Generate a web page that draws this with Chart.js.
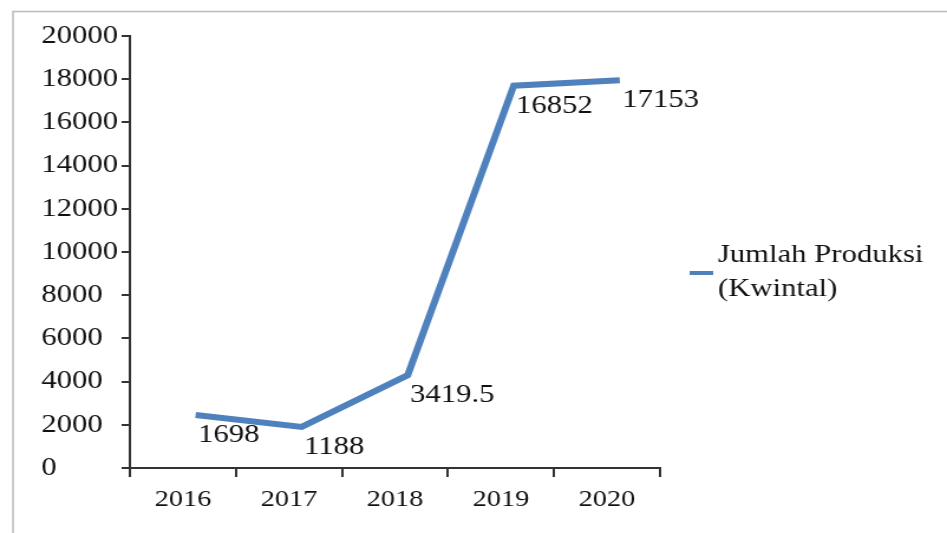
<!DOCTYPE html>
<html>
<head>
<meta charset="utf-8">
<script src="https://cdn.jsdelivr.net/npm/chart.js@4.4.0/dist/chart.umd.min.js"></script>
<style>
  html, body { margin: 0; padding: 0; background: #fff; overflow: hidden; }
  /* gambar asli agak melebar ke samping, jadi kanvas ditarik sedikit */
  #wadah { width: 802px; height: 533px; transform: scaleX(1.1808); transform-origin: 0 0; }
</style>
</head>
<body>
<div id="wadah"><canvas id="grafikProduksi"></canvas></div>
<script>
const tahun = ["2016", "2017", "2018", "2019", "2020"];
// posisi garis seperti yang terbaca di gambar
const produksi = [2450, 1900, 4300, 17700, 17950];
// teks label di samping titik
const labelNilai = ["1698", "1188", "3419.5", "16852", "17153"];
const judulSeri = ["Jumlah Produksi", "(Kwintal)"];

const huruf = "'Liberation Serif', 'Times New Roman', serif";
const warnaGaris = "rgb(79, 129, 189)";
const warnaSumbu = "#333";
const warnaTeks = "#111";

// label nilai, legenda, dan bingkai
const pluginTambahan = {
  id: "tambahan",
  beforeDraw(chart) {
    const ctx = chart.ctx;
    ctx.save();
    ctx.strokeStyle = "#bbb";
    ctx.lineWidth = 1.5;
    ctx.beginPath();
    ctx.moveTo(11, 533);
    ctx.lineTo(11, 11.5);
    ctx.lineTo(chart.width, 11.5);
    ctx.stroke();
    ctx.restore();
  },
  afterDatasetsDraw(chart) {
    const ctx = chart.ctx;
    const meta = chart.getDatasetMeta(0);
    ctx.save();
    ctx.fillStyle = warnaTeks;
    ctx.font = "26px " + huruf;
    ctx.textAlign = "left";
    ctx.textBaseline = "alphabetic";
    meta.data.forEach((p, i) => {
      ctx.fillText(labelNilai[i], p.x + 2, p.y + 27);
    });

    // legenda
    const y0 = (chart.chartArea.top + chart.chartArea.bottom) / 2 + 21;
    ctx.strokeStyle = warnaGaris;
    ctx.lineWidth = 4;
    ctx.beginPath();
    ctx.moveTo(584, y0);
    ctx.lineTo(604, y0);
    ctx.stroke();
    ctx.fillText(judulSeri[0], 608, y0 - 11);
    ctx.fillText(judulSeri[1], 608, y0 + 23);
    ctx.restore();
  },
};

const canvas = document.getElementById("grafikProduksi");
const ctx = canvas.getContext("2d");

window.myChart = new Chart(ctx, {
  type: "line",
  data: {
    labels: tahun,
    datasets: [
      {
        label: judulSeri.join(" "),
        // garis di gambar asli agak bergeser ke kanan dari tengah kategori
        data: produksi.map((v, i) => ({ x: i, y: v })),
        xAxisID: "xGaris",
        borderColor: warnaGaris,
        borderWidth: 6,
        pointRadius: 0,
        tension: 0,
        fill: false,
      },
    ],
  },
  options: {
    responsive: true,
    maintainAspectRatio: false,
    animation: false,
    layout: {
      padding: { left: 35, right: 243, top: 36, bottom: 25 },
    },
    plugins: {
      legend: { display: false },
      tooltip: { enabled: false },
    },
    scales: {
      x: {
        type: "category",
        offset: true,
        grid: {
          offset: true,
          drawOnChartArea: false,
          drawTicks: true,
          tickLength: 9,
          color: warnaSumbu,
          lineWidth: 2,
        },
        border: { display: true, color: warnaSumbu, width: 2 },
        ticks: {
          color: warnaTeks,
          font: { family: huruf, size: 24 },
          padding: 8,
        },
        afterFit: (s) => {
          s.height = 40;
        },
      },
      xGaris: {
        type: "linear",
        display: false,
        min: -0.62,
        max: 4.38,
      },
      y: {
        min: 0,
        max: 20000,
        grid: {
          drawOnChartArea: false,
          drawTicks: true,
          tickLength: 7,
          color: warnaSumbu,
          lineWidth: 2,
        },
        border: { display: true, color: warnaSumbu, width: 2 },
        ticks: {
          stepSize: 2000,
          crossAlign: "far",
          color: warnaTeks,
          font: { family: huruf, size: 26 },
          padding: 3,
          callback: (v) => String(v),
        },
        afterFit: (s) => {
          s.width = 75;
        },
      },
    },
  },
  plugins: [pluginTambahan],
});
</script>
</body>
</html>
